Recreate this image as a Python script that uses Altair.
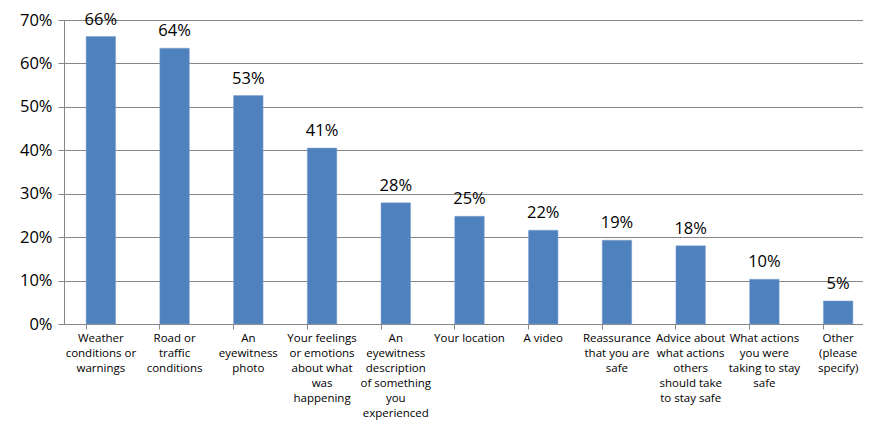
import altair as alt
import pandas as pd

categories = [
    "Weather|conditions or|warnings",
    "Road or|traffic|conditions",
    "An|eyewitness|photo",
    "Your feelings|or emotions|about what|was|happening",
    "An|eyewitness|description|of something|you|experienced",
    "Your location",
    "A video",
    "Reassurance|that you are|safe",
    "Advice about|what actions|others|should take|to stay safe",
    "What actions|you were|taking to stay|safe",
    "Other|(please|specify)",
]
values = [0.662, 0.635, 0.526, 0.405, 0.279, 0.248, 0.216, 0.193, 0.180, 0.103, 0.053]

df = pd.DataFrame({"cat": categories, "val": values})

FONT = "Open Sans"
x = alt.X(
    "cat:N",
    sort=categories,
    scale=alt.Scale(paddingInner=0.6, paddingOuter=0.3, range=[0, 811]),
    axis=alt.Axis(
        title=None,
        labelAngle=0,
        labelExpr="split(datum.label, '|')",
        labelFont=FONT,
        labelFontSize=11.5,
        labelLineHeight=15,
        labelColor="#000000",
        labelLimit=200,
        labelPadding=3,
        labelBaseline="top",
        bandPosition=0,
        tickColor="#868686",
        tickSize=5,
        domainColor="#868686",
        grid=False,
    ),
)

y = alt.Y(
    "val:Q",
    scale=alt.Scale(domain=[0, 0.7], nice=False),
    axis=alt.Axis(
        title=None,
        format=".0%",
        values=[0, 0.1, 0.2, 0.3, 0.4, 0.5, 0.6, 0.7],
        labelFont=FONT,
        labelFontSize=16.5,
        labelColor="#000000",
        labelPadding=6,
        tickColor="#868686",
        tickSize=6,
        domainColor="#868686",
        gridColor="#868686",
        gridWidth=1,
    ),
)

base = alt.Chart(df).encode(x=x, y=y)
bars = base.mark_bar(color="#4F81BD", stroke="#7FA3D0", strokeWidth=0.5)
text = base.mark_text(baseline="bottom", dy=-9, font=FONT, fontSize=16.5, color="#000000").encode(
    text=alt.Text("val:Q", format=".0%")
)

chart = (
    (bars + text)
    .properties(
        width=799,
        height=304,
        padding={"left": 56, "top": 12, "right": 0, "bottom": 98},
        autosize=alt.AutoSizeParams(type="none"),
    )
    .configure_view(stroke=None)
    .configure(background="white")
)

chart.save("out.html", embed_options={"renderer": "svg", "actions": False})
